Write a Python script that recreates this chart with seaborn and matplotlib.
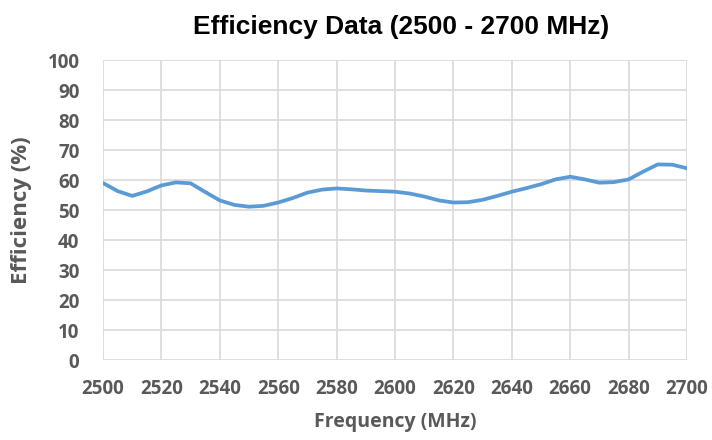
import seaborn as sns
import pandas as pd
import matplotlib.pyplot as plt

sns.set_style('white')
plt.rcParams['font.family'] = ['Open Sans', 'DejaVu Sans']

# efficiency readings, every 5 MHz
freq_mhz = [2500, 2505, 2510, 2515, 2520, 2525, 2530, 2535, 2540, 2545,
            2550, 2555, 2560, 2565, 2570, 2575, 2580, 2585, 2590, 2595,
            2600, 2605, 2610, 2615, 2620, 2625, 2630, 2635, 2640, 2645,
            2650, 2655, 2660, 2665, 2670, 2675, 2680, 2685, 2690, 2695,
            2700]
efficiency = [59.0, 56.3, 54.7, 56.2, 58.2, 59.2, 58.9, 56.0, 53.2, 51.7,
              51.1, 51.4, 52.5, 54.0, 55.8, 56.8, 57.2, 56.9, 56.5, 56.3,
              56.1, 55.5, 54.5, 53.2, 52.5, 52.6, 53.4, 54.7, 56.1, 57.3,
              58.6, 60.2, 61.1, 60.2, 59.1, 59.3, 60.2, 62.8, 65.2, 65.1,
              63.9]
x_ticks = list(range(2500, 2701, 20))
y_ticks = list(range(0, 101, 10))

df = pd.DataFrame({'freq': freq_mhz, 'eff': efficiency})

fig = plt.figure(figsize=(7.12, 4.40), dpi=100)
ax = fig.add_axes([0.1447, 0.1818, 0.8202, 0.6818])

sns.lineplot(data=df, x='freq', y='eff', ax=ax, color='#5B9BD5',
             linewidth=2.7, solid_joinstyle='round', solid_capstyle='round')

ax.set_xlim(2500, 2700)
ax.set_ylim(0, 100)
ax.set_xticks(x_ticks)
ax.set_yticks(y_ticks)
ax.grid(True, color='#D9D9D9', linewidth=1.2)
ax.set_axisbelow(True)
for s in ax.spines.values():
    s.set_visible(False)

ax.tick_params(axis='both', length=0, labelcolor='#595959', labelsize=13.5)
ax.tick_params(axis='x', pad=14)
ax.tick_params(axis='y', pad=17)
for lbl in ax.get_xticklabels() + ax.get_yticklabels():
    lbl.set_fontweight('bold')

ax.set_xlabel('Frequency (MHz)', fontsize=14, fontweight='bold',
              color='#595959', labelpad=9)
ax.set_ylabel('Efficiency (%)', fontsize=16, fontweight='bold',
              color='#595959', labelpad=11)
fig.text(0.563, 0.923, 'Efficiency Data (2500 - 2700 MHz)', ha='center',
         va='baseline', fontsize=19, fontweight='bold',
         family=['Liberation Sans', 'DejaVu Sans'], color='black')

plt.savefig('out.png', dpi=100)
